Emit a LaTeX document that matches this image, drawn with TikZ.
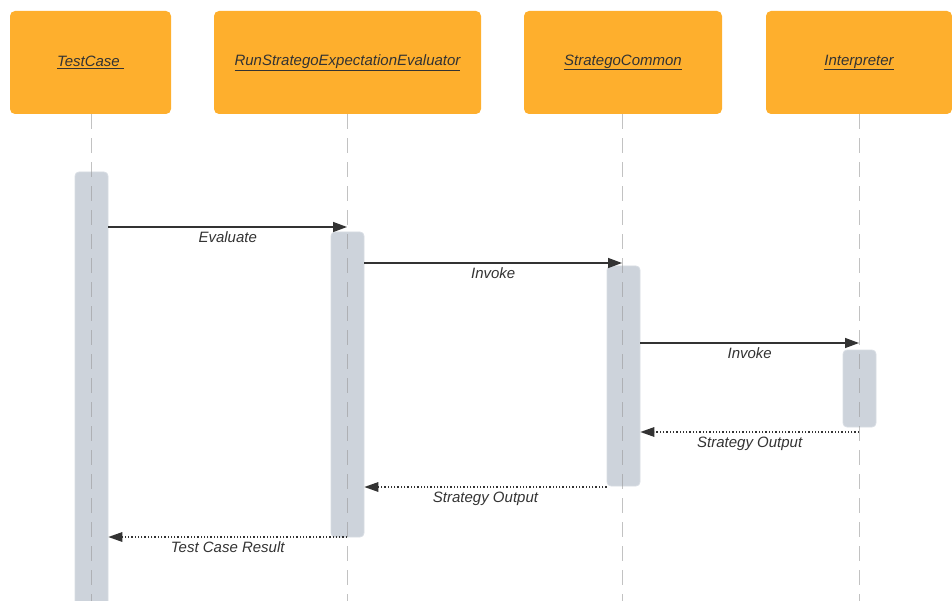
\documentclass[tikz,border=0pt]{standalone}
\usepackage{fontspec}
\setmainfont{Liberation Sans}
\usetikzlibrary{arrows.meta}
\definecolor{headfill}{HTML}{FEAF2D}
\definecolor{barfill}{HTML}{CDD3DB}
\definecolor{barline}{HTML}{D8DDE3}
\definecolor{ink}{HTML}{333333}
\definecolor{lifegray}{HTML}{9A9A9A}
\begin{document}
\begin{tikzpicture}[x=1pt,y=-1pt,
  head/.style={fill=headfill,rounded corners=5pt,minimum height=103pt,inner sep=0pt,
    font=\fontsize{15}{18}\selectfont\itshape,text=ink},
  actbar/.style={fill=barfill,draw=barline,line width=0.8pt,rounded corners=4pt,
    minimum width=33pt,inner sep=0pt},
  lifeline/.style={draw=lifegray,opacity=0.6,line width=0.9pt,dash pattern=on 15pt off 9pt},
  call/.style={draw=ink,line width=1.4pt,-{Triangle[length=14pt,width=10pt]}},
  reply/.style={draw=ink,line width=1.3pt,dotted,-{Triangle[length=14pt,width=10pt,line width=0pt]}},
  msg/.style={font=\fontsize{15}{18}\selectfont\itshape,text=ink}]
\useasboundingbox (0,0) rectangle (952,601);

% participant heads
\node[head,minimum width=161pt] (tc) at (90.5,62.5) {\underline{TestCase\ }};
\node[head,minimum width=267pt] (rs) at (347.5,62.5) {\underline{RunStrategoExpectationEvaluator}};
\node[head,minimum width=198pt] (sc) at (623,62.5) {\underline{StrategoCommon}};
\node[head,minimum width=186pt] (ip) at (859,62.5) {\underline{Interpreter}};

% activation bars
\node[actbar,minimum height=440pt] (tcbar) at (91.5,392) {};
\node[actbar,minimum height=305pt] (rsbar) at (347.5,384.5) {};
\node[actbar,minimum height=220pt] (scbar) at (623.5,376) {};
\node[actbar,minimum height=77pt] (ipbar) at (859.5,388.5) {};

% lifelines, drawn over the bars
\coordinate (tcend) at (91,601);
\coordinate (rsend) at (347,601);
\coordinate (scend) at (622,601);
\coordinate (ipend) at (859,601);
\draw[lifeline] (tc.south -| tcend) -- (tcend);
\draw[lifeline] (rs.south -| rsend) -- (rsend);
\draw[lifeline] (sc.south -| scend) -- (scend);
\draw[lifeline] (ip.south -| ipend) -- (ipend);

% message end points
\coordinate (m1a) at (tcbar.east |- 0,227);  \coordinate (m1b) at (347,227);
\coordinate (m2a) at (rsbar.east |- 0,263);  \coordinate (m2b) at (622,263);
\coordinate (m3a) at (scbar.east |- 0,343);  \coordinate (m3b) at (859,343);
\coordinate (m4a) at (859,432);              \coordinate (m4b) at (scbar.east |- 0,432);
\coordinate (m5a) at (scbar.west |- 0,487);  \coordinate (m5b) at (rsbar.east |- 0,487);
\coordinate (m6a) at (347,537);              \coordinate (m6b) at (tcbar.east |- 0,537);

% messages
\draw[call] (m1a) -- (m1b) node[msg,midway,below=1pt] {Evaluate};
\draw[call] (m2a) -- (m2b) node[msg,midway,below=1pt] {Invoke};
\draw[call] (m3a) -- (m3b) node[msg,midway,below=1pt] {Invoke};
\draw[reply] (m4a) -- (m4b) node[msg,midway,below=1pt] {Strategy Output};
\draw[reply] (m5a) -- (m5b) node[msg,midway,below=1pt] {Strategy Output};
\draw[reply] (m6a) -- (m6b) node[msg,midway,below=1pt] {Test Case Result};
\end{tikzpicture}
\end{document}
